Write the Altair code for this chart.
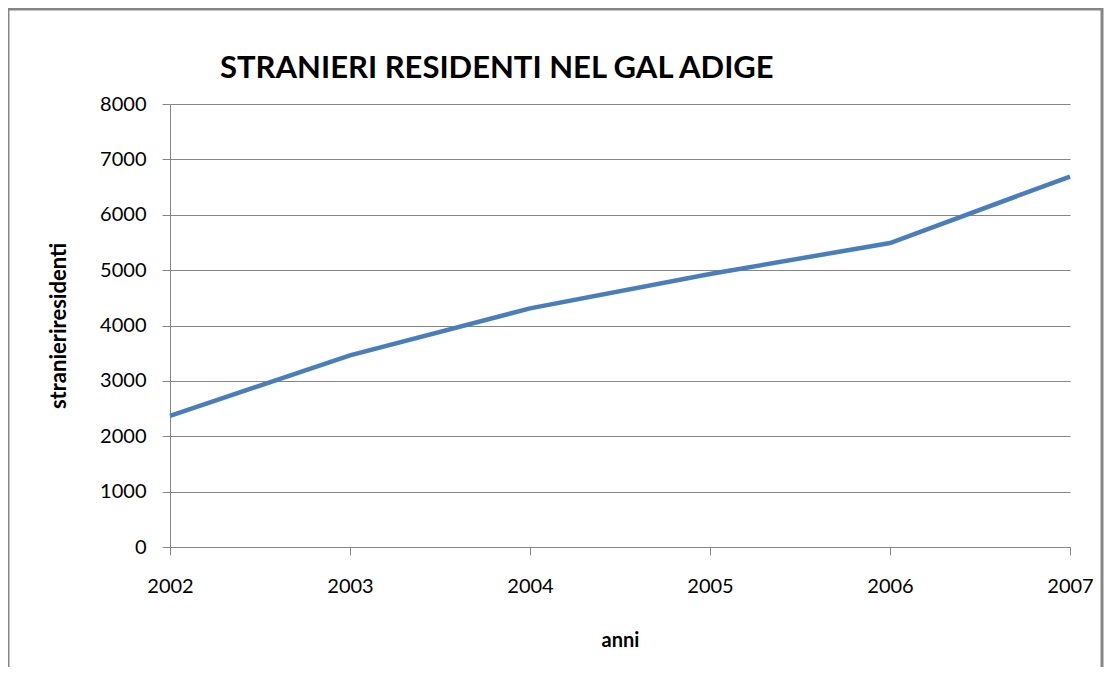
import altair as alt
import pandas as pd

anni = [2002, 2003, 2004, 2005, 2006, 2007]
stranieri = [2370, 3460, 4310, 4930, 5490, 6690]
y_ticks = [0, 1000, 2000, 3000, 4000, 5000, 6000, 7000, 8000]
titolo = "STRANIERI RESIDENTI NEL GAL ADIGE"

df = pd.DataFrame({"anni": anni, "stranieri": stranieri})

W, H = 900, 443
FONT = "Lato"
GRAY = "#868686"

line = alt.Chart(df).mark_line(color="#4a7ebb", strokeWidth=4.5).encode(
    x=alt.X(
        "anni:Q",
        scale=alt.Scale(domain=[2002, 2007], nice=False, zero=False),
        axis=alt.Axis(
            values=anni, format="d", title="anni", grid=False, labelFlush=False,
            domainColor=GRAY, tickColor=GRAY, tickSize=8,
            labelFont=FONT, labelFontSize=20, labelColor="black", labelPadding=21,
            titleFont=FONT, titleFontSize=20, titleFontWeight="bold", titleColor="black",
            titleX=450, titleY=93, titleBaseline="middle", titleAlign="center",
        ),
    ),
    y=alt.Y(
        "stranieri:Q",
        scale=alt.Scale(domain=[0, 8000], nice=False),
        axis=alt.Axis(
            values=y_ticks, format="d", title="stranieriresidenti",
            grid=True, gridColor=GRAY, gridWidth=1,
            domainColor=GRAY, tickColor=GRAY, tickSize=8,
            labelFont=FONT, labelFontSize=20, labelColor="black", labelPadding=16,
            titleFont=FONT, titleFontSize=22, titleFontWeight="bold", titleColor="black",
            titleX=-112, titleY=H / 2, titleBaseline="middle", titleAlign="center", titleAngle=270,
        ),
    ),
)

frame = alt.Chart(pd.DataFrame({"k": [0]})).mark_rect(
    filled=False, stroke=GRAY, strokeWidth=3
).encode(
    x=alt.value(-162), x2=alt.value(932), y=alt.value(-95), y2=alt.value(800)
)

title = alt.Chart(pd.DataFrame({"t": [titolo]})).mark_text(
    align="left", baseline="alphabetic", font=FONT, fontSize=31,
    fontWeight="bold", color="black",
).encode(text="t:N", x=alt.value(50), y=alt.value(-26))

chart = alt.layer(frame, title, line).properties(
    width=W,
    height=H,
    autosize=alt.AutoSizeParams(type="none"),
    padding={"left": 162, "top": 96, "right": 34, "bottom": 120},
).configure_view(stroke=None)

chart.save("out.html", embed_options={"renderer": "svg", "actions": False})
